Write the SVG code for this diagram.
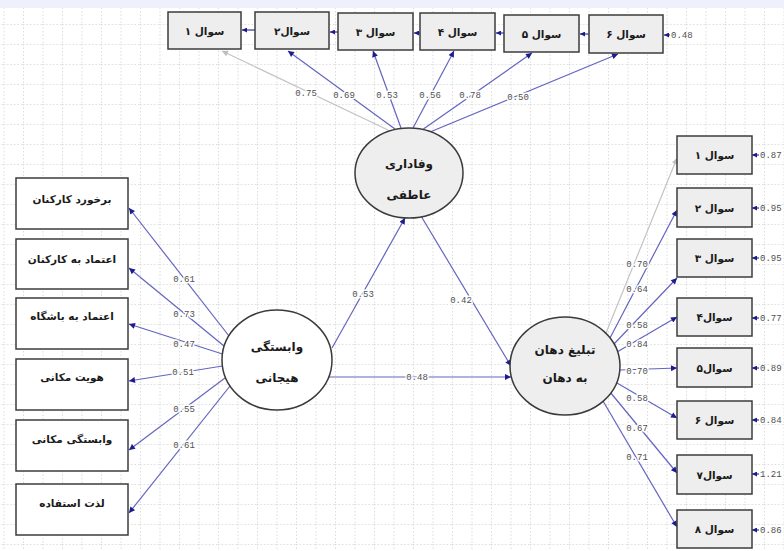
<svg xmlns="http://www.w3.org/2000/svg" width="784" height="551" viewBox="0 0 784 551">
<defs>
<pattern id="grid" patternUnits="userSpaceOnUse" x="3.5" y="4" width="19.5" height="20">
<path d="M0,0.5 H19.5 M0.5,0 V20" fill="none" stroke="#dcdcdc" stroke-width="1" stroke-dasharray="1.5,2"/>
</pattern>
<marker id="ah" viewBox="0 0 10 10" refX="10" refY="5" markerWidth="8" markerHeight="6" orient="auto" markerUnits="userSpaceOnUse">
<path d="M0,0 L10,5 L0,10 z" fill="#1c1c8c"/>
</marker>
<marker id="ahg" viewBox="0 0 10 10" refX="10" refY="5" markerWidth="8" markerHeight="6" orient="auto" markerUnits="userSpaceOnUse">
<path d="M0,0 L10,5 L0,10 z" fill="#bdbdbd"/>
</marker>
<marker id="ahs" viewBox="0 0 10 10" refX="10" refY="5" markerWidth="6" markerHeight="5" orient="auto" markerUnits="userSpaceOnUse">
<path d="M0,0 L10,5 L0,10 z" fill="#1c1c8c"/>
</marker>
</defs>
<style>
.box{fill:#eeeeee;stroke:#3c3c3c;stroke-width:1.5}
.wbox{fill:#ffffff;stroke:#3c3c3c;stroke-width:1.5}
.lat{stroke:#3a3a3a;stroke-width:1.5}
.fa{font-family:"DejaVu Sans","Noto Sans",sans-serif;font-weight:bold;font-size:10.5px;fill:#1a1a1a;text-anchor:middle}
.fc{font-family:"DejaVu Sans","Noto Sans",sans-serif;font-weight:bold;font-size:12px;fill:#1a1a1a;text-anchor:middle}
.num{font-family:"Liberation Mono","DejaVu Sans Mono",monospace;font-size:9px;fill:#505050;text-anchor:middle;stroke:#ffffff;stroke-width:3;paint-order:stroke;stroke-linejoin:round}
.err{font-family:"Liberation Mono","DejaVu Sans Mono",monospace;font-size:9px;fill:#505050}
.ln{stroke:#6464c0;stroke-width:1.2;fill:none;marker-end:url(#ah)}
.lg{stroke:#c4c4c4;stroke-width:1.2;fill:none;marker-end:url(#ahg)}
.le{stroke:#3434a0;stroke-width:1.2;fill:none;marker-end:url(#ahs)}
</style>
<rect x="0" y="0" width="784" height="551" fill="#ffffff"/>
<rect x="0" y="8" width="784" height="543" fill="url(#grid)"/>
<rect x="0" y="0" width="784" height="8" fill="#eef1fb"/>

<g id="connectors">
<line class="lg" x1="388" y1="130" x2="222" y2="51"/>
<line class="ln" x1="395" y1="129" x2="288" y2="51"/>
<line class="ln" x1="401" y1="128" x2="373" y2="51"/>
<line class="ln" x1="413" y1="128" x2="454" y2="51"/>
<line class="ln" x1="422" y1="130" x2="532" y2="53"/>
<line class="ln" x1="430" y1="132" x2="618" y2="54"/>
<line class="ln" x1="229" y1="336" x2="129" y2="208"/>
<line class="ln" x1="224" y1="346" x2="129" y2="268"/>
<line class="ln" x1="222.5" y1="354" x2="129" y2="324"/>
<line class="ln" x1="222.5" y1="366" x2="129" y2="381"/>
<line class="ln" x1="225" y1="378" x2="129" y2="450"/>
<line class="ln" x1="230" y1="386" x2="129" y2="513"/>
<line class="ln" x1="332" y1="348" x2="405" y2="218"/>
<line class="ln" x1="421" y1="216" x2="511" y2="366"/>
<line class="ln" x1="329" y1="377" x2="511" y2="377"/>
<line class="lg" x1="606" y1="333" x2="677" y2="158"/>
<line class="ln" x1="610" y1="338" x2="677" y2="210"/>
<line class="ln" x1="614" y1="344" x2="677" y2="278"/>
<line class="ln" x1="617" y1="352" x2="677" y2="317"/>
<line class="ln" x1="620" y1="370" x2="677" y2="368"/>
<line class="ln" x1="617" y1="383" x2="677" y2="418"/>
<line class="ln" x1="610" y1="392" x2="677" y2="473"/>
<line class="ln" x1="603" y1="401" x2="677" y2="527"/>
<line class="le" x1="255" y1="30" x2="242" y2="30"/>
<line class="le" x1="338" y1="32" x2="330" y2="32"/>
<line class="le" x1="420" y1="33" x2="414" y2="33"/>
<line class="le" x1="504" y1="33" x2="496" y2="33"/>
<line class="le" x1="589" y1="34" x2="580" y2="34"/>
<line class="le" x1="670" y1="35" x2="664" y2="35"/>
<line class="le" x1="759" y1="155" x2="752" y2="155"/>
<line class="le" x1="759" y1="208" x2="752" y2="208"/>
<line class="le" x1="759" y1="258" x2="752" y2="258"/>
<line class="le" x1="759" y1="318" x2="752" y2="318"/>
<line class="le" x1="759" y1="368" x2="752" y2="368"/>
<line class="le" x1="759" y1="420" x2="752" y2="420"/>
<line class="le" x1="759" y1="474" x2="752" y2="474"/>
<line class="le" x1="759" y1="530" x2="752" y2="530"/>
<text class="num" x="306" y="96">0.75</text>
<text class="num" x="344" y="98">0.69</text>
<text class="num" x="387" y="98">0.53</text>
<text class="num" x="430" y="98">0.56</text>
<text class="num" x="470" y="98">0.78</text>
<text class="num" x="518" y="100">0.50</text>
<text class="num" x="184" y="282">0.61</text>
<text class="num" x="184" y="317">0.73</text>
<text class="num" x="184" y="347">0.47</text>
<text class="num" x="183" y="375">0.51</text>
<text class="num" x="184" y="412">0.55</text>
<text class="num" x="184" y="448">0.61</text>
<text class="num" x="363" y="297">0.53</text>
<text class="num" x="461" y="303">0.42</text>
<text class="num" x="417" y="380">0.48</text>
<text class="num" x="637" y="267">0.70</text>
<text class="num" x="637" y="292">0.64</text>
<text class="num" x="637" y="328">0.58</text>
<text class="num" x="637" y="347">0.84</text>
<text class="num" x="637" y="374">0.70</text>
<text class="num" x="637" y="401">0.58</text>
<text class="num" x="637" y="431">0.67</text>
<text class="num" x="637" y="460">0.71</text>
<text class="err" x="671" y="38">0.48</text>
<text class="err" x="760" y="158">0.87</text>
<text class="err" x="760" y="211">0.95</text>
<text class="err" x="760" y="261">0.95</text>
<text class="err" x="760" y="321">0.77</text>
<text class="err" x="760" y="371">0.89</text>
<text class="err" x="760" y="423">0.84</text>
<text class="err" x="760" y="477">1.21</text>
<text class="err" x="760" y="533">0.86</text>
</g>

<g id="t1"><rect class="box" x="168" y="12" width="73" height="37"/><text class="fa" x="204.5" y="35">سوال ۱</text></g>
<g id="t2"><rect class="box" x="255" y="12" width="74" height="37"/><text class="fa" x="292" y="35">سوال۲</text></g>
<g id="t3"><rect class="box" x="338" y="13" width="75" height="37"/><text class="fa" x="375.5" y="36">سوال ۳</text></g>
<g id="t4"><rect class="box" x="420" y="13" width="75" height="37"/><text class="fa" x="457.5" y="36">سوال ۴</text></g>
<g id="t5"><rect class="box" x="504" y="15" width="75" height="37"/><text class="fa" x="541.5" y="38">سوال ۵</text></g>
<g id="t6"><rect class="box" x="589" y="15" width="74" height="38"/><text class="fa" x="626" y="38">سوال ۶</text></g>

<g id="l1"><rect class="wbox" x="16" y="178" width="112" height="51"/><text class="fa" x="72" y="203">برخورد کارکنان</text></g>
<g id="l2"><rect class="wbox" x="16" y="239" width="112" height="50"/><text class="fa" x="72" y="263">اعتماد به کارکنان</text></g>
<g id="l3"><rect class="wbox" x="16" y="298" width="112" height="51"/><text class="fa" x="72" y="320">اعتماد به باشگاه</text></g>
<g id="l4"><rect class="wbox" x="16" y="359" width="112" height="51"/><text class="fa" x="72" y="381">هویت مکانی</text></g>
<g id="l5"><rect class="wbox" x="16" y="420" width="112" height="51"/><text class="fa" x="72" y="443">وابستگی مکانی</text></g>
<g id="l6"><rect class="wbox" x="16" y="484" width="112" height="51"/><text class="fa" x="72" y="507">لذت استفاده</text></g>

<g id="r1"><rect class="box" x="677" y="136" width="75" height="38"/><text class="fa" x="714.5" y="159">سوال ۱</text></g>
<g id="r2"><rect class="box" x="677" y="188" width="75" height="39"/><text class="fa" x="714.5" y="212">سوال ۲</text></g>
<g id="r3"><rect class="box" x="677" y="239" width="75" height="38"/><text class="fa" x="714.5" y="262">سوال ۳</text></g>
<g id="r4"><rect class="box" x="677" y="298" width="75" height="38"/><text class="fa" x="714.5" y="321">سوال۴</text></g>
<g id="r5"><rect class="box" x="677" y="348" width="75" height="39"/><text class="fa" x="714.5" y="372">سوال۵</text></g>
<g id="r6"><rect class="box" x="677" y="401" width="75" height="38"/><text class="fa" x="714.5" y="424">سوال ۶</text></g>
<g id="r7"><rect class="box" x="677" y="455" width="75" height="39"/><text class="fa" x="714.5" y="479">سوال۷</text></g>
<g id="r8"><rect class="box" x="677" y="510" width="75" height="38"/><text class="fa" x="714.5" y="533">سوال ۸</text></g>

<g id="affective"><ellipse class="lat" cx="409" cy="173" rx="54" ry="45" fill="#eeeeee"/><text class="fc" x="409" y="168">وفاداری</text><text class="fc" x="409" y="199">عاطفی</text></g>
<g id="emotional"><ellipse class="lat" cx="277" cy="360" rx="55" ry="50" fill="#ffffff"/><text class="fc" x="277" y="351">وابستگی</text><text class="fc" x="277" y="382">هیجانی</text></g>
<g id="wom"><ellipse class="lat" cx="565" cy="366" rx="55" ry="49" fill="#eeeeee"/><text class="fc" x="565" y="354">تبلیغ دهان</text><text class="fc" x="565" y="382">به دهان</text></g>
</svg>
